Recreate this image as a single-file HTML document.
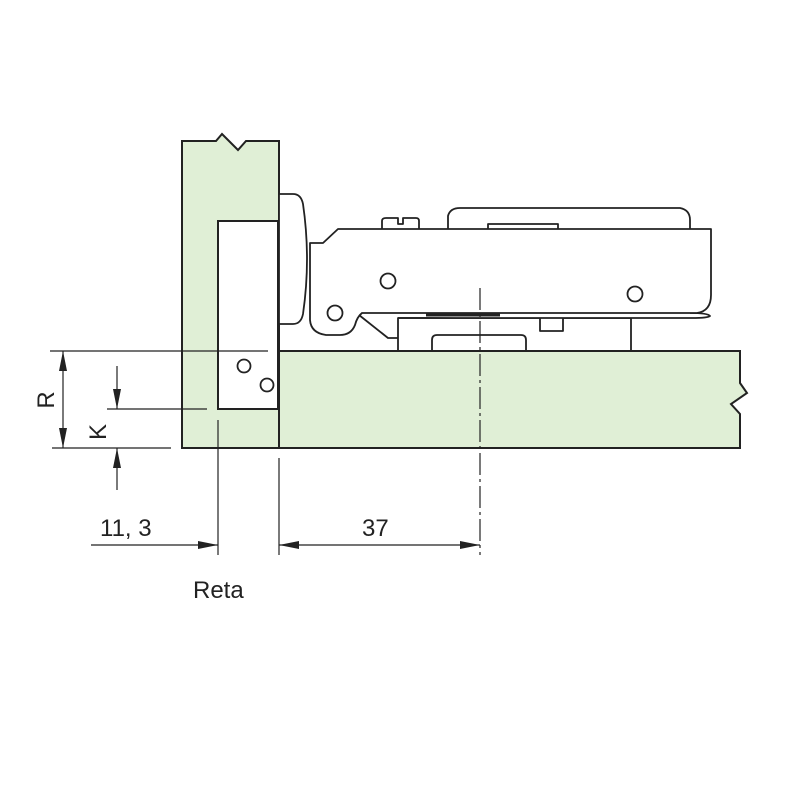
<!DOCTYPE html>
<html><head><style>body{margin:0;background:#fff}svg{display:block}</style></head><body>
<svg width="800" height="800" viewBox="0 0 800 800" xmlns="http://www.w3.org/2000/svg" font-family="Liberation Sans, sans-serif">
<defs>
<marker id="a" viewBox="0 0 20 8" refX="20" refY="4" markerWidth="20" markerHeight="8" markerUnits="userSpaceOnUse" orient="auto-start-reverse"><path d="M0,0 L20,4 L0,8 Z" fill="#222"/></marker>
</defs>
<g stroke="#222" stroke-width="2" fill="#e0efd6">
<path d="M182,141 H216 L222,134 L238,150 L246,141 H279 V448 H182 Z"/>
<path d="M279,351 H740 V383 L747,393 L731,404 L740,414 V448 H279 Z"/>
</g>
<g stroke="#222" stroke-width="2" fill="#fff">
<rect x="218" y="221" width="60" height="188"/>
</g>
<g stroke="#222" stroke-width="1.8" fill="#fff" stroke-linejoin="round">
<path d="M279,194 H293 Q301,194 303,204 Q311,259 303,314 Q301,324 293,324 H279 Z"/>
<path d="M398,350 V318 H631 V350"/>
<path d="M432,350 V340 Q432,335 437,335 H521 Q526,335 526,340 V350"/>
<path d="M448,229 V216 Q450,208 460,208 H680 Q690,210 690,220 V229"/>
<path d="M488,229 V224 H558 V229"/>
<path d="M382,229 V221 Q382,218 386,218 H398 V224 H403 V218 H416 Q419,218 419,221 V229"/>
<path d="M540,317 V331 H563 V317"/>
<path d="M690,313 Q708,313 710,316 Q708,318 692,318 H398"/>
<path d="M310,243 H323 L338,229 H711 V295 Q711,311 697,313 H362 Q357,317 355,325 Q351,335 340,335 H326 Q311,333 310,320 Z"/>
<path d="M359,315 L388,338 H398" fill="none"/>
<circle cx="388" cy="281" r="7.5"/>
<circle cx="635" cy="294" r="7.5"/>
<circle cx="335" cy="313" r="7.5"/>
<circle cx="244" cy="366" r="6.5"/>
<circle cx="267" cy="385" r="6.5"/>
</g>
<line x1="426" y1="315" x2="500" y2="315" stroke="#222" stroke-width="3"/>
<g stroke="#222" stroke-width="1.2" fill="none">
<line x1="480" y1="288" x2="480" y2="555" stroke-dasharray="22,4,3,4"/>
<line x1="50" y1="351" x2="268" y2="351"/>
<line x1="52" y1="448" x2="171" y2="448"/>
<line x1="107" y1="409" x2="207" y2="409"/>
<line x1="218" y1="420" x2="218" y2="555"/>
<line x1="279" y1="458" x2="279" y2="555"/>
<line x1="63" y1="351" x2="63" y2="448" marker-start="url(#a)" marker-end="url(#a)"/>
<line x1="117" y1="366" x2="117" y2="409" marker-end="url(#a)"/>
<line x1="117" y1="490" x2="117" y2="448" marker-end="url(#a)"/>
<line x1="91" y1="545" x2="218" y2="545" marker-end="url(#a)"/>
<line x1="279" y1="545" x2="480" y2="545" marker-start="url(#a)" marker-end="url(#a)"/>
</g>
<g fill="#222" font-size="24">
<text x="54" y="400" transform="rotate(-90 54 400)" text-anchor="middle">R</text>
<text x="106" y="432" transform="rotate(-90 106 432)" text-anchor="middle">K</text>
<text x="100" y="536">11, 3</text>
<text x="362" y="536">37</text>
<text x="193" y="598">Reta</text>
</g>
</svg>
</body></html>
